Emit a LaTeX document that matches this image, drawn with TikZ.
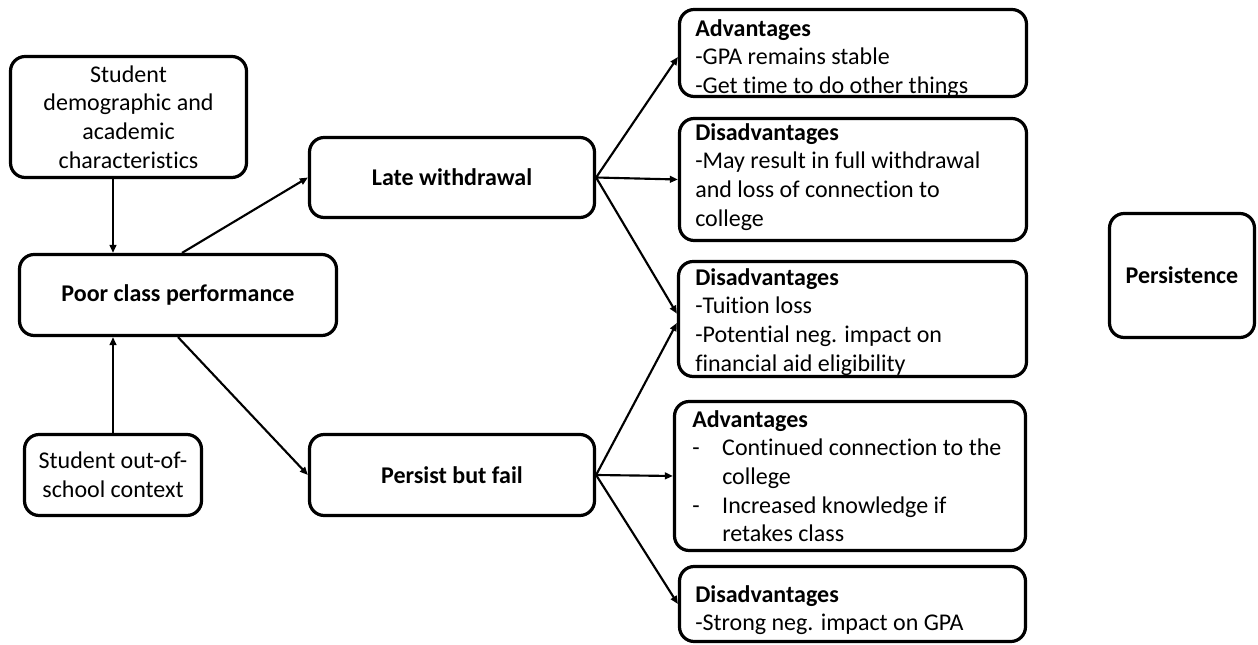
\documentclass[tikz,border=0pt]{standalone}
\usepackage{fontspec}
\setmainfont[Ligatures=NoCommon]{Carlito}
\usetikzlibrary{arrows.meta,calc}
\begin{document}
\begin{tikzpicture}[x=0.75pt,y=-0.75pt,
  bx/.style 2 args={draw=black,line width=2.4pt,rounded corners=11pt,inner sep=0pt,
     minimum width=#1*0.75pt,minimum height=#2*0.75pt},
  ctext/.style={align=center,font=\fontsize{18pt}{21.5pt}\selectfont},
  btext/.style={align=center,font=\fontsize{18pt}{21.5pt}\selectfont\bfseries},
  ltext/.style={align=left,anchor=north west,inner sep=0pt,font=\fontsize{18pt}{21.5pt}\selectfont},
  arr/.style={line width=1.6pt,-{Triangle[length=6pt,width=5pt]}}]
\useasboundingbox (0,0) rectangle (1258,645);
% left column
\node[bx={236}{121},ctext] (sd) at (128.5,117) {Student\\demographic and\\academic\\characteristics};
\node[bx={317}{81},btext] (pcp) at (178,295) {Poor class performance};
\node[bx={177}{81},ctext] (sos) at (113,475) {Student out-of-\\school context};
% middle
\node[bx={285}{80},btext] (lw) at (452,177.5) {Late withdrawal};
\node[bx={285}{81},btext] (pbf) at (452,475) {Persist but fail};
% right boxes
\node[bx={347}{87}] (a1) at (853,53) {};
\node[bx={347}{122}] (d1) at (853,179.5) {};
\node[bx={348}{115}] (d2) at (852.5,319) {};
\node[bx={351}{149}] (a2) at (850,476) {};
\node[bx={346}{75}] (d3) at (852.5,604) {};
\node[bx={145}{124},btext] (ps) at (1182,275.5) {Persistence};
% right texts
\node[ltext] (ta1) at (695,19) {\textbf{Advantages}\\-GPA remains stable\\-Get time to do other things};
\node[ltext] (td1) at (695,123) {\textbf{Disadvantages}\\-May result in full withdrawal\\and loss of connection to\\college};
\node[ltext] (td2) at (695,268) {\textbf{Disadvantages}\\-Tuition loss\\-Potential neg. impact on\\financial aid eligibility};
\node[ltext] (ta2) at (692,410) {\textbf{Advantages}\\\makebox[22.5pt][l]{-}Continued connection to the\\\hspace*{22.5pt}college\\\makebox[22.5pt][l]{-}Increased knowledge if\\\hspace*{22.5pt}retakes class};
\node[ltext] (td3) at (695,585) {\textbf{Disadvantages}\\-Strong neg. impact on GPA};
% connectors
\draw[arr] (sd.south -| sos.north) -- (sos.north |- pcp.north);
\draw[arr] (sos.north) -- (sos.north |- pcp.south);
\draw[arr] ([xshift=3pt]pcp.north) -- (lw.west);
\draw[arr] (pcp.south) -- (pbf.west);
\draw[arr] (lw.east) -- ([yshift=-3pt]a1.west);
\draw[arr] (lw.east) -- (d1.west);
\draw[arr] (lw.east) -- ([yshift=4pt]d2.west);
\draw[arr] (pbf.east) -- ([yshift=-3pt]d2.west);
\draw[arr] (pbf.east) -- (a2.west);
\draw[arr] (pbf.east) -- (d3.west);
\end{tikzpicture}
\end{document}
